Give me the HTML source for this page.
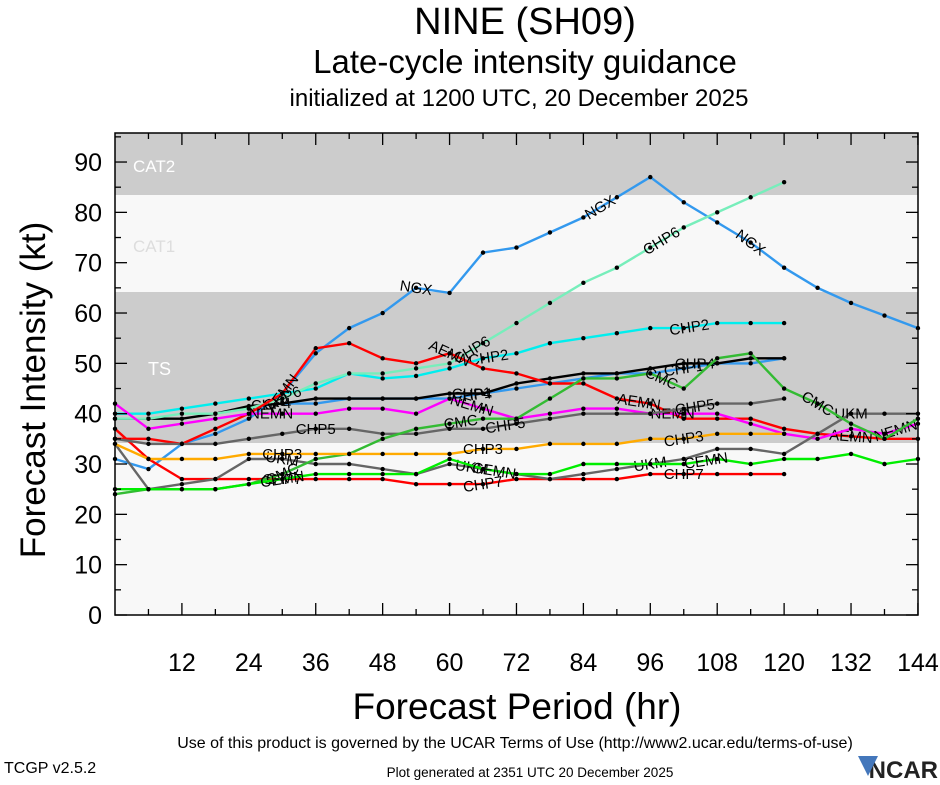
<!DOCTYPE html>
<html><head><meta charset="utf-8"><style>
body{margin:0;background:#fff;width:940px;height:780px;overflow:hidden;font-family:"Liberation Sans",sans-serif}
</style></head><body>
<svg id="s" width="940" height="780" xmlns="http://www.w3.org/2000/svg" font-family="Liberation Sans, sans-serif">
<rect width="940" height="780" fill="#fff"/>
<text x="525" y="34" font-size="38" text-anchor="middle">NINE (SH09)</text>
<text x="525" y="73" font-size="33" text-anchor="middle">Late-cycle intensity guidance</text>
<text x="519" y="106" font-size="24" text-anchor="middle">initialized at 1200 UTC, 20 December 2025</text>
<rect x="115" y="133" width="803" height="482" fill="#f8f8f8"/>
<rect x="115" y="133" width="803" height="62" fill="#cccccc"/>
<rect x="115" y="292" width="803" height="151" fill="#cccccc"/>
<text x="133" y="172" font-size="17" fill="#fff">CAT2</text>
<text x="133" y="252" font-size="17" fill="#ddd">CAT1</text>
<text x="148" y="375" font-size="18" fill="#fff">TS</text>
<g id="series"></g>
<g id="axes"></g>
<text transform="translate(45,390) rotate(-90)" font-size="35" text-anchor="middle">Forecast Intensity (kt)</text>
<text x="517" y="719" font-size="37" text-anchor="middle">Forecast Period (hr)</text>
<text x="515" y="748" font-size="16" text-anchor="middle">Use of this product is governed by the UCAR Terms of Use (http://www2.ucar.edu/terms-of-use)</text>
<text x="4" y="773" font-size="16">TCGP v2.5.2</text>
<text x="530" y="777" font-size="13.5" text-anchor="middle">Plot generated at 2351 UTC   20 December 2025</text>
<text x="938" y="778" font-size="24" font-weight="bold" text-anchor="end" fill="#222">NCAR</text>
<path d="M858 756 l10 20 l10 -20 z" fill="#4477bb"/>
</svg>
<script>
var X=t=>115+5.576*t, Y=k=>615-5.033*k;
var ns="http://www.w3.org/2000/svg";
function el(n,a,p,txt){var e=document.createElementNS(ns,n);for(var k in a)e.setAttribute(k,a[k]);if(txt!==undefined)e.textContent=txt;p.appendChild(e);return e;}
var S=[
["#3399ee",[31,29,34,36,39,44,52,57,60,65,64,72,73,76,79,83,87,82,78,74,69,65,62,59.5,57],[[54,"NGX"],[87,"NGX"],[114,"NGX"]]],
["#3399ee",[null,null,null,null,null,42,42,43,43,43,43,44,45,46,47,48,48,49,50,50,51],[[64,"CHP1"],[102,"CHP1"]]],
["#000",[39,39,39,40,41.5,42,43,43,43,43,44,44,46,47,48,48,49,50,50,51,51],[[64,"CHP4"],[104,"CHP4"],[28,"CHP4"]]],
["#00eeee",[40,40,41,42,43,44,45,48,47,47.5,49,51,52,54,55,56,57,57,58,58,58],[[67,"CHP2"],[103,"CHP2"]]],
["#77eebb",[39,39,40,40,41,43,46,48,48,49,50,54,58,62,66,69,73,77,80,83,86],[[64,"CHP6"],[98,"CHP6"],[30,"CHP6"]]],
["#ff0000",[35,35,34,37,40,44,53,54,51,50,52,49,48,46,46,43,42,39,39,39,37,36,35.5,35,35],[[60,"AEMN"],[94,"AEMN"],[132,"AEMN"],[30,"AEMN"]]],
["#ff0000",[37,31,27,27,27,27,27,27,27,26,26,26,27,27,27,27,28,28,28,28,28],[[30,"CHP7"],[66,"CHP7"],[102,"CHP7"]]],
["#ff00ff",[42,37,38,39,40,40,40,41,41,40,43,41,39,40,41,41,40,40,40,38,36,35,37,36,38],[[28,"NEMN"],[64,"NEMN"],[100,"NEMN"],[140,"NEMN"]]],
["#666",[35,34,34,34,35,36,37,37,36,36,37,37,38,39,40,40,40,41,42,42,43],[[36,"CHP5"],[70,"CHP5"],[104,"CHP5"]]],
["#666",[34,25,26,27,31,31,30,30,29,28,30,29,28,27,28,29,30,31,33,33,32,36,40,40,40],[[30,"UKM"],[64,"UKM"],[96,"UKM"],[132,"UKM"]]],
["#33bb33",[24,25,25,25,26,28,31,32,35,37,38,39,39,43,47,47,48,45,51,52,45,42,38,35,39],[[30,"CMC"],[62,"CMC"],[98,"CMC"],[126,"CMC"]]],
["#00ee00",[25,25,25,25,26,27,28,28,28,28,31,29,28,28,30,30,30,30,31,30,31,31,32,30,31],[[30,"CEMN"],[68,"CEMN"],[106,"CEMN"]]],
["#ffaa00",[34,31,31,31,32,32,32,32,32,32,32,33,33,34,34,34,35,35,36,36,36],[[30,"CHP3"],[66,"CHP3"],[102,"CHP3"]]]
];
var g=document.getElementById("series");
S.forEach(function(s){var d="",pts=[];s[1].forEach(function(v,i){if(v==null)return;var x=X(6*i),y=Y(v);pts.push([x,y]);d+=(d?"L":"M")+x.toFixed(1)+" "+y.toFixed(1);});
el("path",{d:d,fill:"none",stroke:s[0],"stroke-width":2.4},g);
pts.forEach(p=>el("circle",{cx:p[0],cy:p[1],r:2.2,fill:"#000"},g));
s[2].forEach(function(l){var t=l[0],i=t/6,a=Math.floor(i),b=Math.min(a+1,s[1].length-1),f=i-a;var va=s[1][a],vb=s[1][b];if(va==null)va=vb;var v=va+(vb-va)*f;var ang=Math.atan2(Y(vb)-Y(va),X(6*b)-X(6*a))*180/Math.PI;
el("text",{x:X(t),y:Y(v)+5,"font-size":15,"text-anchor":"middle",transform:"rotate("+ang.toFixed(1)+" "+X(t)+" "+Y(v)+")"},g,l[1]);});
});
var a=document.getElementById("axes");
el("rect",{x:115,y:133,width:803,height:482,fill:"none",stroke:"#000","stroke-width":1.5},a);
for(var k=0;k<=95;k+=5){var y=Y(k),L=k%10?6:12;el("line",{x1:115,x2:115+L,y1:y,y2:y,stroke:"#000","stroke-width":1.3},a);el("line",{x1:918,x2:918-L,y1:y,y2:y,stroke:"#000","stroke-width":1.3},a);
if(k%10==0)el("text",{x:102,y:y+9,"font-size":25,"text-anchor":"end"},a,String(k));}
for(var t=6;t<=144;t+=6){var x=X(t),L=t%12?6:12;el("line",{x1:x,x2:x,y1:615,y2:615-L,stroke:"#000","stroke-width":1.3},a);el("line",{x1:x,x2:x,y1:133,y2:133+L,stroke:"#000","stroke-width":1.3},a);
if(t%12==0)el("text",{x:x,y:671,"font-size":25,"text-anchor":"middle"},a,String(t));}
</script>
</body></html>
